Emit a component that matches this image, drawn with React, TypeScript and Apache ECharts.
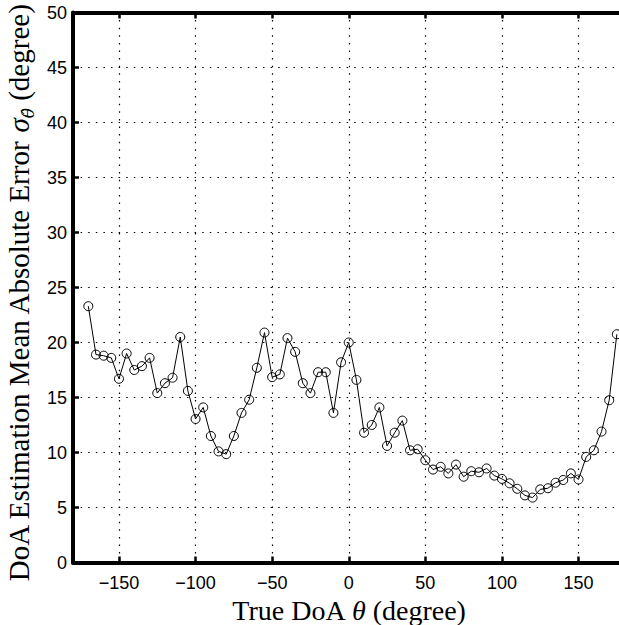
import React, { useEffect, useRef } from "react";
import * as echarts from "echarts";

const trueDoA = [
  -170, -165, -160, -155, -150, -145, -140, -135, -130, -125,
  -120, -115, -110, -105, -100, -95, -90, -85, -80, -75,
  -70, -65, -60, -55, -50, -45, -40, -35, -30, -25,
  -20, -15, -10, -5, 0, 5, 10, 15, 20, 25,
  30, 35, 40, 45, 50, 55, 60, 65, 70, 75,
  80, 85, 90, 95, 100, 105, 110, 115, 120, 125,
  130, 135, 140, 145, 150, 155, 160, 165, 170, 175,
];

const meanAbsError = [
  23.3, 18.9, 18.8, 18.6, 16.7, 19.0, 17.5, 17.85, 18.6, 15.4,
  16.3, 16.8, 20.5, 15.6, 13.05, 14.1, 11.5, 10.1, 9.85, 11.5,
  13.6, 14.8, 17.7, 20.9, 16.85, 17.1, 20.4, 19.15, 16.3, 15.4,
  17.3, 17.3, 13.6, 18.2, 20.0, 16.6, 11.8, 12.5, 14.1, 10.6,
  11.8, 12.9, 10.2, 10.3, 9.3, 8.45, 8.7, 8.1, 8.9, 7.8,
  8.3, 8.2, 8.55, 7.9, 7.6, 7.2, 6.7, 6.1, 5.9, 6.65,
  6.75, 7.25, 7.5, 8.1, 7.55, 9.6, 10.2, 11.9, 14.75, 20.75,
];

const xTickValues = [-150, -100, -50, 0, 50, 100, 150];
const xTitle = "True DoA {i|θ} (degree)";
const yTitle = "DoA Estimation Mean Absolute Error {i|σ}{s|θ̂}{d| (degree)}";

export default function App() {
  const ref = useRef<HTMLDivElement>(null);

  useEffect(() => {
    if (!ref.current) return;
    const chart = echarts.init(ref.current, null, { renderer: "svg" });
    const serif = "Liberation Serif";
    const sans = "Liberation Sans";
    const gridLine = {
      show: true,
      lineStyle: { color: "#000", width: 1.2, type: [1.5, 6.1] as any },
    };
    const fmtX = (v: number) =>
      xTickValues.indexOf(v) >= 0 ? String(v).replace("-", "\u2212") : "";

    chart.setOption({
      animation: false,
      backgroundColor: "#fff",
      grid: { left: 73, top: 12.5, width: 551.5, height: 550, outerBoundsMode: "none", containLabel: false },
      xAxis: [
        {
          type: "value",
          min: -180,
          max: 180,
          splitNumber: 7,
          position: "bottom",
          axisLine: { show: true, onZero: false, lineStyle: { color: "#000", width: 4 } },
          axisTick: { show: true, inside: true, length: 6, lineStyle: { color: "#000", width: 2.5 } },
          axisLabel: {
            show: true,
            margin: 11,
            fontFamily: sans,
            fontSize: 18,
            color: "#000",
            formatter: fmtX,
          },
          splitLine: gridLine,
          name: xTitle,
          nameLocation: "middle",
          nameGap: 30,
          nameTextStyle: {
            fontFamily: serif,
            fontSize: 28,
            color: "#000",
            rich: { i: { fontFamily: serif, fontSize: 28, fontStyle: "italic", color: "#000" } },
          },
        },
        {
          type: "value",
          min: -180,
          max: 180,
          splitNumber: 7,
          position: "top",
          axisLine: { show: true, onZero: false, lineStyle: { color: "#000", width: 4 } },
          axisTick: { show: true, inside: true, length: 6, lineStyle: { color: "#000", width: 2.5 } },
          axisLabel: { show: false },
          splitLine: { show: false },
        },
      ],
      yAxis: [
        {
          type: "value",
          min: 0,
          max: 50,
          interval: 5,
          position: "left",
          axisLine: { show: true, onZero: false, lineStyle: { color: "#000", width: 4 } },
          axisTick: { show: true, inside: true, length: 6, lineStyle: { color: "#000", width: 2.5 } },
          axisLabel: { margin: 6, fontFamily: sans, fontSize: 18, color: "#000" },
          splitLine: gridLine,
          name: yTitle,
          nameLocation: "middle",
          nameGap: 37,
          nameRotate: 90,
          nameTextStyle: {
            fontFamily: serif,
            fontSize: 29,
            lineHeight: 34,
            color: "#000",
            padding: [0, 12, 0, 0],
            rich: {
              i: { fontFamily: serif, fontSize: 29, lineHeight: 34, fontStyle: "italic", color: "#000" },
              s: { fontFamily: "DejaVu Serif", fontSize: 17, lineHeight: 19, fontStyle: "italic", color: "#000", verticalAlign: "bottom" },
              d: { fontFamily: serif, fontSize: 29, lineHeight: 34, color: "#000" },
            },
          },
        },
      ],
      series: [
        {
          type: "line",
          xAxisIndex: 0,
          yAxisIndex: 0,
          data: trueDoA.map((x, i) => [x, meanAbsError[i]]),
          symbol: "circle",
          symbolSize: 9,
          showAllSymbol: true,
          clip: false,
          lineStyle: { color: "#000", width: 1 },
          itemStyle: { color: "rgba(255,255,255,0)", borderColor: "#000", borderWidth: 1 },
        },
      ],
    });
    return () => chart.dispose();
  }, []);

  return (
    <div
      ref={ref}
      style={{ position: "absolute", left: 0, top: 0, width: 619, height: 625, overflow: "hidden" }}
    />
  );
}
